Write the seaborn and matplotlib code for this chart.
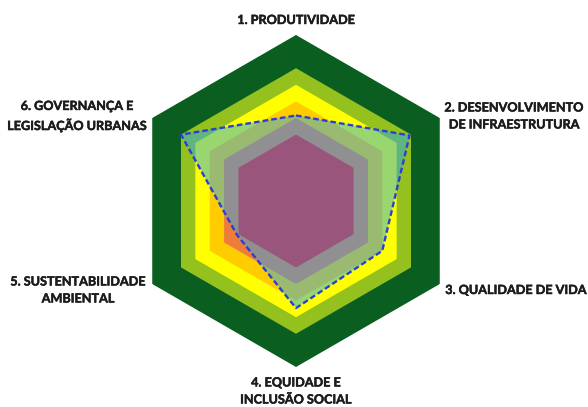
import numpy as np
import matplotlib
matplotlib.use("Agg")
import matplotlib.pyplot as plt
import matplotlib.patheffects as pe
import seaborn as sns

# ---- data ----
categories = [
    "1. PRODUTIVIDADE",
    "2. DESENVOLVIMENTO\nDE INFRAESTRUTURA",
    "3. QUALIDADE DE VIDA",
    "4. EQUIDADE E\nINCLUSÃO SOCIAL",
    "5. SUSTENTABILIDADE\nAMBIENTAL",
    "6. GOVERNANÇA E\nLEGISLAÇÃO URBANAS",
]
values = [5.15, 7.9, 6.0, 6.45, 4.1, 8.0]
band_levels = [10, 8, 7, 6, 5, 4]
band_colors = ["#0A5E1F", "#95C11F", "#FFFF00", "#FFCC00", "#EE7D3C", "#FF1414"]

# label positions (figure pixels, from top-left)
label_pos = [(296, 20), (514, 116), (516, 290), (296, 391), (78, 290), (77, 116)]

sns.set_theme(style="white")
plt.rcParams["font.family"] = ["Lato", "DejaVu Sans"]

W, H = 588, 407
fig = plt.figure(figsize=(W / 100, H / 100), dpi=100)
cx, cy, R = 296, 201, 166
ax = fig.add_axes([(cx - R) / W, 1 - (cy + R) / H, 2 * R / W, 2 * R / H], projection="polar")
ax.set_theta_offset(np.pi / 2)
ax.set_theta_direction(-1)

n = len(categories)
theta = np.linspace(0, 2 * np.pi, n, endpoint=False)
theta_c = np.append(theta, theta[0])

for lvl, col in zip(band_levels, band_colors):
    ax.fill(theta_c, [lvl] * (n + 1), color=col, lw=0, zorder=1)

vals_c = np.append(values, values[0])
ax.fill(theta_c, vals_c, color=(30 / 255, 165 / 255, 250 / 255), alpha=0.45, lw=0, zorder=2)
sns.lineplot(x=theta_c, y=vals_c, sort=False, estimator=None, ax=ax,
             color="#2B3FD6", lw=1.7, dashes=False, zorder=3)
ax.lines[-1].set_dashes((2.4, 1.3))

ax.set_ylim(0, 10)
ax.set_xticks([])
ax.set_yticks([])
ax.grid(False)
ax.spines["polar"].set_visible(False)
ax.set_facecolor("none")
ax.set_xlabel("")
ax.set_ylabel("")

for lab, (px, py) in zip(categories, label_pos):
    fig.text(px / W, 1 - py / H, lab, ha="center", va="center", multialignment="center",
             fontsize=9.1, fontweight="bold", color="#1c1c1c", linespacing=1.5,
             path_effects=[pe.withStroke(linewidth=0.35, foreground="#1c1c1c")])

fig.savefig("out.png", dpi=100)
